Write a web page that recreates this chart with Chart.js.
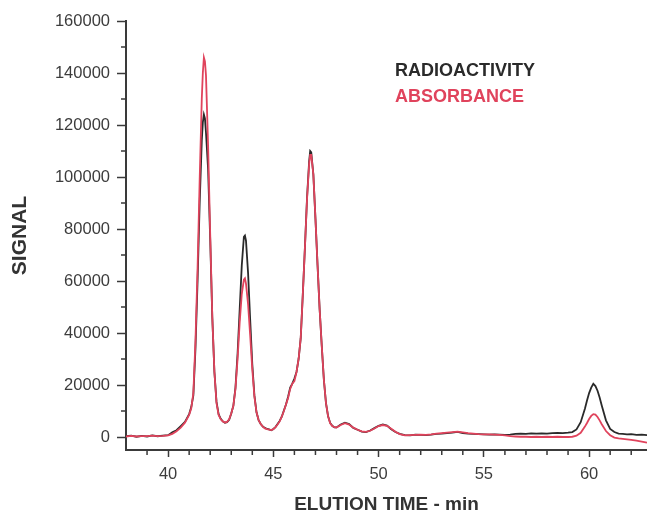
<!DOCTYPE html>
<html><head><meta charset="utf-8">
<script src="https://cdn.jsdelivr.net/npm/chart.js@4.4.0/dist/chart.umd.min.js"></script>
<style>html,body{margin:0;padding:0;background:#fff}#wrap{width:647px;height:514px;position:relative}</style>
</head><body><div id="wrap"><canvas id="c"></canvas></div>
<script>
// ---- data ----
const elutionTime = [
 38.0,38.25,38.5,38.75,39.0,39.25,39.5,39.75,40.0,40.2,40.4,40.6,40.8,41.0,41.1,41.2,41.3,41.4,41.5,41.6,41.65,41.7,41.75,41.8,41.9,
 42.0,42.1,42.2,42.3,42.4,42.5,42.6,42.7,42.8,42.9,43.0,43.1,43.2,43.3,43.4,43.5,43.6,43.65,43.7,43.8,43.9,
 44.0,44.1,44.2,44.3,44.4,44.5,44.6,44.7,44.8,44.9,45.0,45.1,45.2,45.3,45.4,45.5,45.6,45.7,45.8,45.9,
 46.0,46.1,46.2,46.3,46.4,46.5,46.6,46.7,46.75,46.8,46.9,47.0,47.1,47.2,47.3,47.4,47.5,47.6,47.7,47.8,47.9,
 48.0,48.2,48.4,48.6,48.8,49.0,49.2,49.4,49.6,49.8,50.0,50.2,50.4,50.6,50.8,
 51.0,51.25,51.5,51.75,52.0,52.25,52.5,52.75,53.0,53.25,53.5,53.75,54.0,54.25,54.5,54.75,
 55.0,55.25,55.5,55.75,56.0,56.25,56.5,56.75,57.0,57.25,57.5,57.75,58.0,58.25,58.5,58.75,
 59.0,59.2,59.4,59.6,59.8,59.9,60.0,60.1,60.2,60.3,60.4,60.5,60.6,60.8,61.0,61.2,61.4,61.6,61.8,
 62.0,62.25,62.5,62.75,63.0
];
const radioactivity = [
 300,500,100,400,200,600,300,500,700,1800,2600,4200,5800,8800,11500,16000,34000,60000,90000,114000,121000,124000,122500,117000,103000,
 76000,46000,25000,13500,8800,7000,6000,5500,5700,6600,9000,12000,19000,32000,49000,66000,77000,77500,75500,63000,45000,
 28000,16000,9500,6500,5000,4000,3500,3100,2900,2600,3100,3800,5000,6200,7800,10200,12500,15500,19000,20500,
 22500,25000,30000,38000,55000,73000,92000,106000,110000,109500,101000,84000,66000,49000,35000,22000,13000,8000,5400,4300,3700,
 3700,4800,5500,5000,3500,2800,2100,1900,2500,3400,4300,4800,4400,3000,1900,
 1200,700,600,900,800,700,900,1200,1300,1500,1700,2000,1500,1300,1200,1100,
 1000,900,1000,900,800,900,1200,1300,1200,1400,1300,1400,1300,1500,1600,1500,
 1700,1900,2900,5700,10900,14000,16900,19000,20500,19600,17800,15200,12100,6400,3100,1900,1300,1200,1000,
 1100,800,900,700,800
];
const absorbance = [
 200,400,200,300,300,500,300,400,600,1200,2200,3600,5500,8500,11000,17000,37000,65000,99000,130000,140000,146000,144500,139000,112000,
 78000,46000,25000,13000,8500,6800,6000,5600,5800,6800,9000,12000,18500,30000,44000,55000,60500,61000,59000,51000,39000,
 26000,15500,9500,6500,5000,4000,3300,3000,2800,2700,3000,3800,4800,6000,7800,10000,12500,15000,18500,20500,
 21500,25000,30000,38000,55000,73000,91500,105000,108500,108500,101000,84000,66000,49000,35000,22000,13000,8000,5300,4200,3800,
 3600,4600,5300,4800,3600,2800,2200,2000,2400,3300,4200,4600,4300,3200,2000,
 1100,600,700,800,900,800,1000,1300,1500,1700,1900,2100,1800,1500,1300,1100,
 1000,1000,900,800,600,300,200,100,100,0,100,0,100,0,100,0,
 0,100,500,1600,4000,5400,6900,8100,8800,8600,7700,6400,4900,2300,700,-200,-500,-700,-900,
 -1100,-1400,-1800,-2200,-2600
];
const seriesNames = ['RADIOACTIVITY', 'ABSORBANCE'];
const yTickValues = [0,20000,40000,60000,80000,100000,120000,140000,160000];
const yMinorTickValues = [10000,30000,50000,70000,90000,110000,130000,150000];
const xTickValues = [40,45,50,55,60];
const xMinorTickValues = [39,41,42,43,44,46,47,48,49,51,52,53,54,56,57,58,59,61,62];

// ---- styling ----
const FONT = '"Liberation Sans", Arial, Helvetica, sans-serif';
const axisColor = '#3a3a3a';
const tickLabelColor = '#3c3c3c';
const blackLine = '#2a2a2a';
const redLine = '#e0435c';

const minorTicks = {
  id: 'minorTicks',
  afterDraw(chart) {
    const ctx = chart.ctx, xs = chart.scales.x, ys = chart.scales.y;
    ctx.save();
    ctx.strokeStyle = axisColor; ctx.lineWidth = 1.5;
    ctx.beginPath();
    yMinorTickValues.forEach(v => { const p = ys.getPixelForValue(v); ctx.moveTo(ys.right - 5, p); ctx.lineTo(ys.right, p); });
    xMinorTickValues.forEach(v => { const p = xs.getPixelForValue(v); ctx.moveTo(p, xs.top); ctx.lineTo(p, xs.top + 5); });
    ctx.stroke();
    ctx.restore();
  }
};
const textLegend = {
  id: 'textLegend',
  afterDraw(chart, args, opts) {
    const ctx = chart.ctx;
    ctx.save();
    ctx.font = 'bold 18px ' + FONT;
    ctx.textAlign = 'left'; ctx.textBaseline = 'middle';
    chart.data.datasets.forEach((ds, i) => {
      ctx.fillStyle = ds.borderColor;
      ctx.fillText(ds.label, opts.x, opts.y + i * opts.gap);
    });
    ctx.restore();
  }
};

const toPoints = arr => elutionTime.map((t, i) => ({x: t, y: arr[i]}));

new Chart(document.getElementById('c'), {
  type: 'line',
  data: {
    datasets: [
      {label: seriesNames[0], data: toPoints(radioactivity), borderColor: blackLine, borderWidth: 1.8, pointRadius: 0, tension: 0, order: 2},
      {label: seriesNames[1], data: toPoints(absorbance), borderColor: redLine, borderWidth: 1.8, pointRadius: 0, tension: 0, order: 1}
    ]
  },
  options: {
    responsive: true, maintainAspectRatio: false, animation: false,
    layout: {padding: {top: 21, right: 0, left: 0, bottom: 0}},
    plugins: {legend: {display: false}, tooltip: {enabled: false},
      textLegend: {x: 395, y: 71, gap: 26}},
    scales: {
      x: {
        type: 'linear', min: 38, max: 62.75,
        afterBuildTicks: s => { s.ticks = xTickValues.map(v => ({value: v})); },
        afterFit: s => { s.height = 64; },
        grid: {drawOnChartArea: false, drawTicks: true, tickLength: 7, tickColor: axisColor, tickWidth: 1.5},
        border: {display: true, color: axisColor, width: 2},
        ticks: {padding: 8, color: tickLabelColor, font: {family: FONT, size: 16.5}, maxRotation: 0, autoSkip: false},
        title: {display: true, text: 'ELUTION TIME - min', color: '#333', font: {family: FONT, size: 19, weight: 'bold', lineHeight: 1}, padding: {top: 0, bottom: 0}}
      },
      y: {
        min: -5000, max: 160000,
        afterBuildTicks: s => { s.ticks = yTickValues.map(v => ({value: v})); },
        afterFit: s => { s.width = 126; },
        grid: {drawOnChartArea: false, drawTicks: true, tickLength: 9, tickColor: axisColor, tickWidth: 1.5},
        border: {display: true, color: axisColor, width: 2},
        ticks: {padding: 7, color: tickLabelColor, font: {family: FONT, size: 16.5}, autoSkip: false, callback: v => String(v)},
        title: {display: true, text: 'SIGNAL', color: '#333', font: {family: FONT, size: 21, weight: 'bold', lineHeight: 1}, padding: {top: 10, bottom: 0}}
      }
    }
  },
  plugins: [minorTicks, textLegend]
});
</script>
</body></html>
